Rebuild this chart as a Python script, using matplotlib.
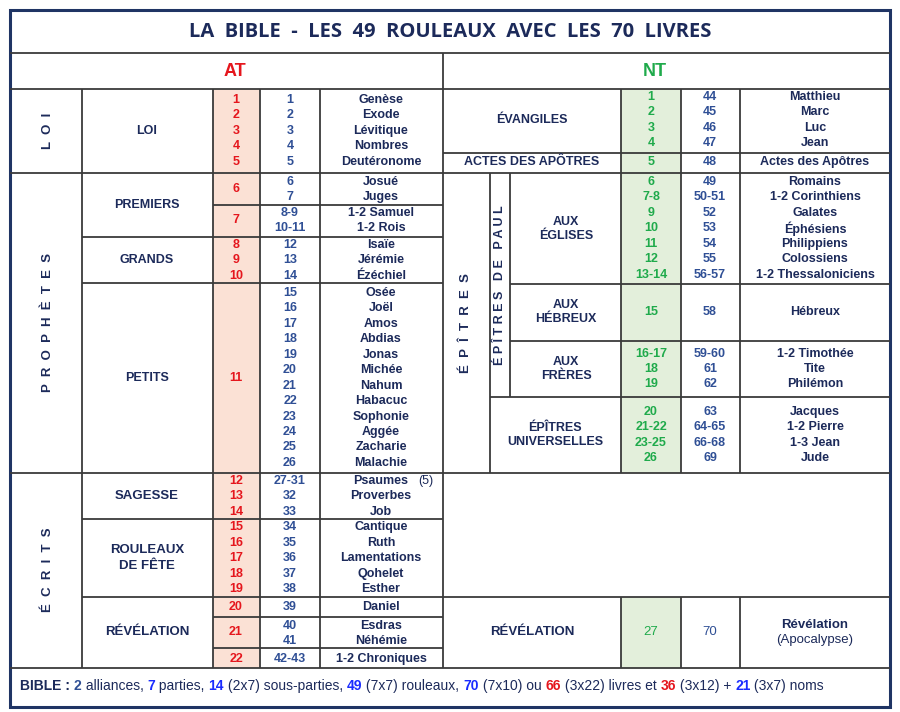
import matplotlib.pyplot as plt
from matplotlib.patches import Rectangle
from matplotlib import font_manager

NAVY = '#1c2a5a'
BLUE = '#2f4f95'
RED = '#e5161d'
GREEN = '#1faa4b'
AT_FILL = '#fbe1d5'
NT_FILL = '#e3efdb'
LINE = '#3a3a3a'

names = {f.name for f in font_manager.fontManager.ttflist}
NARROW = 'Liberation Sans Narrow' if 'Liberation Sans Narrow' in names else 'Liberation Sans'

title = 'LA  BIBLE  -  LES  49  ROULEAUX  AVEC  LES  70  LIVRES'

# Ancien Testament: (partie, sous-partie, rouleaux, numeros, livres)
at_loi_rouleaux = ['1', '2', '3', '4', '5']
at_loi_nums = ['1', '2', '3', '4', '5']
at_loi_livres = ['Genèse', 'Exode', 'Lévitique', 'Nombres', 'Deutéronome']

at_proph_rouleaux = ['6', '7', '8', '9', '10', '11']
at_proph_nums = ['6', '7', '8-9', '10-11', '12', '13', '14', '15', '16', '17', '18', '19', '20',
                 '21', '22', '23', '24', '25', '26']
at_proph_livres = ['Josué', 'Juges', '1-2 Samuel', '1-2 Rois', 'Isaïe', 'Jérémie', 'Ézéchiel',
                   'Osée', 'Joël', 'Amos', 'Abdias', 'Jonas', 'Michée', 'Nahum', 'Habacuc',
                   'Sophonie', 'Aggée', 'Zacharie', 'Malachie']

at_ecrits_rouleaux = ['12', '13', '14', '15', '16', '17', '18', '19', '20', '21', '22']
at_ecrits_nums = ['27-31', '32', '33', '34', '35', '36', '37', '38', '39', '40', '41', '42-43']
at_ecrits_livres = ['Psaumes', 'Proverbes', 'Job', 'Cantique', 'Ruth', 'Lamentations', 'Qohelet',
                    'Esther', 'Daniel', 'Esdras', 'Néhémie', '1-2 Chroniques']

# Nouveau Testament
nt_rouleaux = ['1', '2', '3', '4', '5', '6', '7-8', '9', '10', '11', '12', '13-14', '15',
               '16-17', '18', '19', '20', '21-22', '23-25', '26', '27']
nt_nums = ['44', '45', '46', '47', '48', '49', '50-51', '52', '53', '54', '55', '56-57', '58',
           '59-60', '61', '62', '63', '64-65', '66-68', '69', '70']
nt_livres = ['Matthieu', 'Marc', 'Luc', 'Jean', 'Actes des Apôtres', 'Romains', '1-2 Corinthiens',
             'Galates', 'Éphésiens', 'Philippiens', 'Colossiens', '1-2 Thessaloniciens', 'Hébreux',
             '1-2 Timothée', 'Tite', 'Philémon', 'Jacques', '1-2 Pierre', '1-3 Jean', 'Jude']

footer = [('BIBLE : ', NAVY, 'bold'), ('2', BLUE, 'bold'), (' alliances, ', NAVY, 'normal'),
          ('7', '#1a2cff', 'bold'), (' parties, ', NAVY, 'normal'), ('14', '#1a2cff', 'bold'),
          (' (2x7) sous-parties, ', NAVY, 'normal'), ('49', '#1a2cff', 'bold'),
          (' (7x7) rouleaux, ', NAVY, 'normal'), ('70', '#1a2cff', 'bold'),
          (' (7x10) ou ', NAVY, 'normal'), ('66', RED, 'bold'), (' (3x22) livres et ', NAVY, 'normal'),
          ('36', RED, 'bold'), (' (3x12) + ', NAVY, 'normal'), ('21', '#1a2cff', 'bold'),
          (' (3x7) noms', NAVY, 'normal')]

fig = plt.figure(figsize=(9, 7.12), dpi=100)
ax = fig.add_axes([0, 0, 1, 1])
ax.set_xlim(0, 900)
ax.set_ylim(712, 0)
ax.axis('off')


def hline(y, x0, x1, lw=1.3):
    ax.plot([x0, x1], [y, y], color=LINE, lw=lw, solid_capstyle='butt')


def vline(x, y0, y1, lw=1.3):
    ax.plot([x, x], [y0, y1], color=LINE, lw=lw, solid_capstyle='butt')


def txt(x, y, s, color=NAVY, size=9, weight='bold', family='Liberation Sans', **kw):
    ax.text(x, y, s, color=color, fontsize=size, fontweight=weight, family=family,
            ha='center', va='center', **kw)


def column(x, ys, labels, color, family='Liberation Sans'):
    for y, s in zip(ys, labels):
        txt(x, y, s, color=color, family=family)


# fills
ax.add_patch(Rectangle((213, 89), 47, 579, color=AT_FILL, lw=0))
ax.add_patch(Rectangle((621, 89), 60, 384, color=NT_FILL, lw=0))
ax.add_patch(Rectangle((621, 597), 60, 71, color=NT_FILL, lw=0))

# grid
hline(53, 10, 890)
hline(89, 10, 890)
hline(173, 10, 890)
hline(473, 10, 890)
hline(597, 82, 890)
hline(668, 10, 890)
for y in (205, 617, 648):
    hline(y, 213, 443)
hline(237, 82, 443)
hline(283, 82, 443)
hline(519, 82, 443)
hline(153, 443, 890)
hline(284, 510, 890)
hline(341, 510, 890)
hline(397, 490, 890)
vline(443, 53, 668)
for x in (82, 213, 260, 320):
    vline(x, 89, 668)
for x in (621, 681, 740):
    vline(x, 89, 473)
    vline(x, 597, 668)
vline(490, 173, 473)
vline(510, 173, 397)
ax.add_patch(Rectangle((10, 10), 880, 697, fill=False, ec='#1f3464', lw=2.2))

# headers
txt(450, 32, title, size=14.5, family='Open Sans')
txt(235, 71, 'AT', color=RED, size=13)
txt(655, 71, 'NT', color=GREEN, size=13)

# vertical labels
txt(48, 131, 'L  O  I', size=9.5, rotation=90)
txt(48, 323, 'P  R  O  P  H  È  T  E  S', size=9.5, rotation=90)
txt(48, 570, 'É  C  R  I  T  S', size=9.5, rotation=90)
txt(466, 323, 'É  P  Î  T  R  E  S', size=9.5, rotation=90)
txt(500, 285, 'É P Î T R E S   D E   P A U L', size=9, rotation=90)

# AT sub-parties
txt(147, 131, 'LOI')
txt(147, 205, 'PREMIERS')
txt(147, 260, 'GRANDS')
txt(147, 378, 'PETITS')
txt(147, 496, 'SAGESSE', family=NARROW, size=9.5)
txt(147, 558, 'ROULEAUX\nDE FÊTE', family=NARROW, size=9.5, linespacing=1.4)
txt(147, 632, 'RÉVÉLATION', family=NARROW, size=9.5)

# AT columns
step = 15.45
loi_y = [100 + i * step for i in range(5)]
column(236, loi_y, at_loi_rouleaux, RED)
column(290, loi_y, at_loi_nums, BLUE)
column(381, loi_y, at_loi_livres, NAVY)

proph_y = [182, 197, 213, 228, 245, 260, 276] + [293 + i * step for i in range(12)]
column(236, [189, 220, 245, 260, 276, 378], at_proph_rouleaux, RED)
column(290, proph_y, at_proph_nums, BLUE)
column(381, proph_y, at_proph_livres, NAVY)

ecr_y = [481 + i * step for i in range(8)] + [607, 626, 641, 659]
column(236, ecr_y[:9] + [632, 659], at_ecrits_rouleaux, RED, NARROW)
column(290, ecr_y, at_ecrits_nums, BLUE, NARROW)
column(381, ecr_y, at_ecrits_livres, NAVY, NARROW)
ax.text(418, 481, '(5)', color=NAVY, fontsize=9, family=NARROW, ha='left', va='center')

# NT sub-parties
txt(532, 120, 'ÉVANGILES')
txt(532, 162, 'ACTES DES APÔTRES')
txt(566, 229, 'AUX\nÉGLISES', linespacing=1.3)
txt(566, 312, 'AUX\nHÉBREUX', linespacing=1.3)
txt(566, 369, 'AUX\nFRÈRES', linespacing=1.3)
txt(555, 435, 'ÉPÎTRES\nUNIVERSELLES', linespacing=1.3)
txt(532, 632, 'RÉVÉLATION', family=NARROW, size=9.5)

# NT columns
nt_y = ([97 + i * step for i in range(4)] + [162]
        + [182 + i * step for i in range(7)] + [312]
        + [354, 369, 384] + [412 + i * step for i in range(4)])
column(651, nt_y, nt_rouleaux[:20], GREEN)
column(710, nt_y, nt_nums[:20], BLUE)
column(815, nt_y, nt_livres, NAVY)
txt(651, 632, nt_rouleaux[20], color=GREEN, family=NARROW, weight='normal', size=9.5)
txt(710, 632, nt_nums[20], color=BLUE, family=NARROW, weight='normal', size=9.5)
txt(815, 625, 'Révélation', family=NARROW, size=9.5)
txt(815, 640, '(Apocalypse)', family=NARROW, weight='normal', size=9.5)

# footer with coloured pieces
fig.canvas.draw()
renderer = fig.canvas.get_renderer()
x = 20
for s, c, w in footer:
    t = ax.text(x, 686, s, color=c, fontsize=10, fontweight=w, family=NARROW,
                ha='left', va='center')
    bb = t.get_window_extent(renderer)
    x += bb.width

fig.savefig('out.png', dpi=100)
